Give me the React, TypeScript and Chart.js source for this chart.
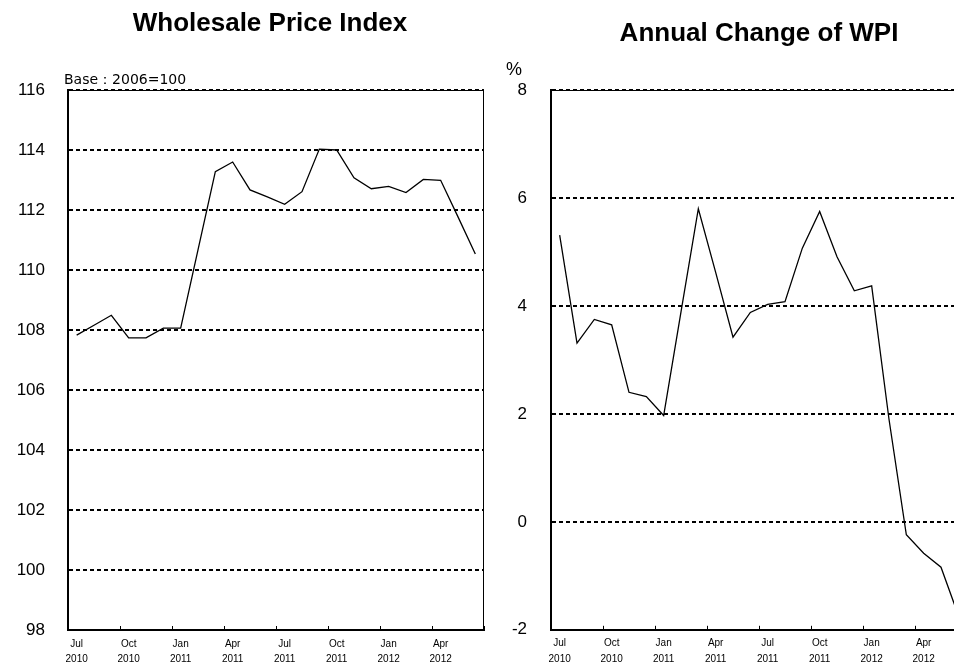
import React, { useEffect, useRef } from 'react';
import { Chart, registerables } from 'chart.js';

Chart.register(...registerables);

const months = [
  'Jul 2010', 'Aug 2010', 'Sep 2010', 'Oct 2010', 'Nov 2010', 'Dec 2010',
  'Jan 2011', 'Feb 2011', 'Mar 2011', 'Apr 2011', 'May 2011', 'Jun 2011',
  'Jul 2011', 'Aug 2011', 'Sep 2011', 'Oct 2011', 'Nov 2011', 'Dec 2011',
  'Jan 2012', 'Feb 2012', 'Mar 2012', 'Apr 2012', 'May 2012', 'Jun 2012',
];

const wpiIndex = [
  107.83, 108.16, 108.49, 107.74, 107.74, 108.06,
  108.06, 110.67, 113.28, 113.6, 112.67, 112.44,
  112.19, 112.61, 114.03, 114.0, 113.07, 112.71,
  112.79, 112.58, 113.02, 112.99, 111.77, 110.53,
];

const wpiAnnualChange = [
  5.31, 3.31, 3.75, 3.65, 2.4, 2.32,
  1.97, 3.89, 5.8, 4.62, 3.42, 3.88,
  4.03, 4.08, 5.07, 5.75, 4.91, 4.28,
  4.37, 1.9, -0.24, -0.58, -0.84, -1.73,
];

const indexAxis = { min: 98, max: 116, step: 2 };
const changeAxis = { min: -2, max: 8, step: 2 };

const titles = ['Wholesale Price Index', 'Annual Change of WPI'];
const baseNote = 'Base：2006=100';
const percentNote = '%';

const FONT = "'Liberation Sans', Arial, Helvetica, sans-serif";

const decorPlugin = {
  id: 'decor',
  afterDatasetsDraw(chart: any, _args: any, opts: any) {
    const { ctx, chartArea: a, scales } = chart;
    ctx.save();
    ctx.strokeStyle = '#000';
    ctx.lineWidth = 1;
    ctx.setLineDash([]);
    ctx.beginPath();
    ctx.moveTo(a.left, a.top + 0.5);
    ctx.lineTo(a.right, a.top + 0.5);
    ctx.moveTo(a.right - 0.5, a.top);
    ctx.lineTo(a.right - 0.5, a.bottom);
    ctx.stroke();

    const xs = scales.x;
    const half = (xs.getPixelForValue(1) - xs.getPixelForValue(0)) / 2;
    ctx.beginPath();
    for (let i = 0; i <= months.length; i += 3) {
      const px = Math.round(xs.getPixelForValue(i) - half) + 0.5;
      ctx.moveTo(px, a.bottom);
      ctx.lineTo(px, a.bottom - 4);
    }
    ctx.stroke();

    const ys = scales.y;
    ctx.lineWidth = 2;
    ctx.beginPath();
    ys.ticks.forEach((t: any) => {
      const py = Math.round(ys.getPixelForValue(t.value));
      ctx.moveTo(a.left, py);
      ctx.lineTo(a.left + 5, py);
    });
    ctx.stroke();

    ctx.fillStyle = '#000';
    ctx.font = `bold 26px ${FONT}`;
    ctx.textAlign = 'center';
    ctx.textBaseline = 'alphabetic';
    ctx.fillText(opts.title, (a.left + a.right) / 2 + (opts.titleShift || 0), opts.titleY);

    (opts.notes || []).forEach((n: any) => {
      ctx.font = n.font;
      ctx.textAlign = n.align;
      ctx.fillText(n.text, a.left + n.dx, a.top + n.dy);
    });
    ctx.restore();
  },
};

function makeConfig(data: number[], axis: any, yWidth: number, yPad: number, decor: any) {
  return {
    type: 'line' as const,
    data: {
      labels: months,
      datasets: [
        {
          data,
          borderColor: '#000',
          borderWidth: 1.3,
          pointRadius: 0,
          tension: 0,
          fill: false,
        },
      ],
    },
    plugins: [decorPlugin],
    options: {
      animation: false,
      responsive: false,
      devicePixelRatio: 1,
      layout: { padding: { left: 0, right: 6, top: 90, bottom: 0 } },
      plugins: {
        legend: { display: false },
        tooltip: { enabled: false },
        title: { display: false },
        decor,
      },
      scales: {
        x: {
          type: 'category',
          offset: true,
          afterFit(s: any) {
            s.height = 34;
          },
          grid: { display: false, drawTicks: false, offset: true },
          border: { display: true, color: '#000', width: 2 },
          ticks: {
            autoSkip: false,
            maxRotation: 0,
            minRotation: 0,
            padding: 6,
            color: '#000',
            font: { family: FONT, size: 10, lineHeight: 1.55 },
            callback: (_v: any, i: number) => (i % 3 === 0 ? months[i].split(' ') : ''),
          },
        },
        y: {
          min: axis.min,
          max: axis.max,
          afterFit(s: any) {
            s.width = yWidth;
          },
          grid: { display: true, color: '#000', lineWidth: 2, drawTicks: false },
          border: { display: true, color: '#000', width: 2, dash: [4, 3] },
          ticks: {
            stepSize: axis.step,
            padding: yPad,
            color: '#000',
            font: { family: FONT, size: 17 },
          },
        },
      },
    },
  };
}

function LineChart(props: { config: any; style: React.CSSProperties; width: number; height: number }) {
  const ref = useRef<HTMLCanvasElement | null>(null);
  useEffect(() => {
    if (!ref.current) return;
    const chart = new Chart(ref.current, props.config);
    return () => chart.destroy();
  }, []);
  return <canvas ref={ref} width={props.width} height={props.height} style={props.style} />;
}

export default function App() {
  const leftConfig = makeConfig(wpiIndex, indexAxis, 68, 23, {
    title: titles[0],
    titleY: 31,
    titleShift: -6,
    notes: [{ text: baseNote, dx: -4, dy: -6, font: `14px 'DejaVu Sans', ${FONT}`, align: 'left' }],
  });
  const rightConfig = makeConfig(wpiAnnualChange, changeAxis, 61, 24, {
    title: titles[1],
    titleY: 41,
    notes: [{ text: percentNote, dx: -37, dy: -15, font: `18px ${FONT}`, align: 'center' }],
  });
  return (
    <div
      style={{
        position: 'fixed',
        left: 0,
        top: 0,
        width: 954,
        height: 664,
        overflow: 'hidden',
        background: '#fff',
      }}
    >
      <LineChart
        config={leftConfig}
        width={490}
        height={664}
        style={{ position: 'absolute', left: 0, top: 0, width: 490, height: 664 }}
      />
      <LineChart
        config={rightConfig}
        width={483}
        height={664}
        style={{ position: 'absolute', left: 490, top: 0, width: 483, height: 664 }}
      />
    </div>
  );
}
